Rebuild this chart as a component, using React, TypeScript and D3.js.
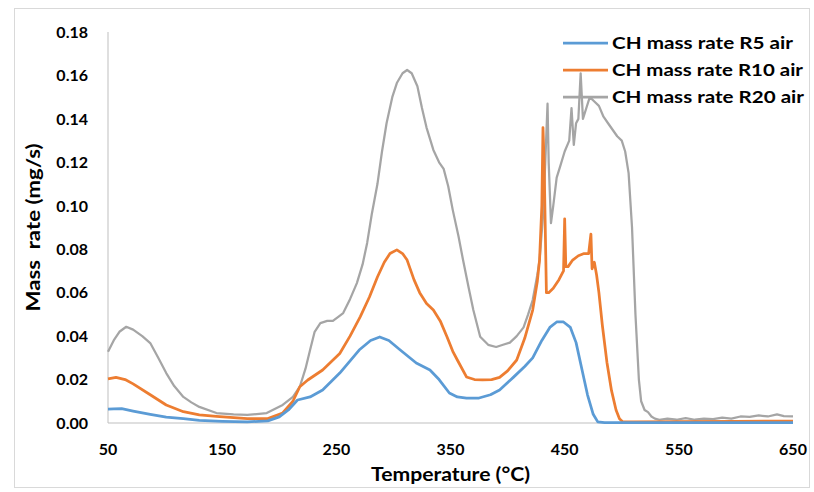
import React from "react";
import * as d3 from "d3";

const xTicks = [50, 150, 250, 350, 450, 550, 650];
const yTicks = [0, 0.02, 0.04, 0.06, 0.08, 0.1, 0.12, 0.14, 0.16, 0.18];

const seriesNames = ["CH mass rate R5 air", "CH mass rate R10 air", "CH mass rate R20 air"];
const seriesColors = ["#5B9BD5", "#ED7D31", "#A5A5A5"];
const legendWidths = [181, 191, 192];

const r5Temp = [50, 55, 62, 72, 87, 101, 116, 130, 150, 172, 190, 200, 208, 216, 227, 238, 253, 270, 280, 288, 296, 306, 320, 332, 340, 349, 356, 364, 375, 385, 393, 405, 415, 422, 430, 437, 443, 449, 455, 460, 465, 470, 475, 479, 485, 500, 550, 600, 650];
const r5Val = [0.0064, 0.0065, 0.0066, 0.0055, 0.004, 0.0027, 0.002, 0.0012, 0.0008, 0.0005, 0.001, 0.0028, 0.006, 0.0106, 0.012, 0.0152, 0.023, 0.0336, 0.038, 0.0396, 0.038, 0.0336, 0.0276, 0.0244, 0.02, 0.0138, 0.012, 0.0115, 0.0115, 0.013, 0.0152, 0.021, 0.026, 0.03, 0.038, 0.044, 0.0465, 0.0465, 0.044, 0.037, 0.025, 0.013, 0.004, 0.0005, 0.0002, 0.0002, 0.0002, 0.0002, 0.0002];

const r10Temp = [50, 57, 65, 72, 87, 101, 116, 130, 145, 172, 190, 203, 212, 218, 225, 238, 253, 262, 271, 279, 286, 292, 297, 303, 308, 312, 318, 323, 329, 335, 341, 347, 352, 356, 364, 371, 378, 386, 393, 400, 408, 415, 422, 426, 428, 430, 431, 432, 434, 436, 440, 445, 449, 450, 451, 453, 457, 462, 467, 471, 473, 474, 476, 478, 480, 483, 487, 491, 495, 498, 501, 510, 550, 600, 650];
const r10Val = [0.0203, 0.021, 0.02, 0.018, 0.013, 0.0083, 0.0052, 0.0037, 0.003, 0.002, 0.002, 0.0046, 0.01, 0.0167, 0.0198, 0.0244, 0.032, 0.04, 0.049, 0.058, 0.0672, 0.074, 0.078, 0.0797, 0.078, 0.075, 0.066, 0.06, 0.055, 0.052, 0.047, 0.0396, 0.033, 0.029, 0.0212, 0.02, 0.0198, 0.02, 0.021, 0.024, 0.029, 0.039, 0.052, 0.065, 0.075, 0.1, 0.136, 0.12, 0.06, 0.06, 0.062, 0.066, 0.07, 0.094, 0.072, 0.072, 0.075, 0.077, 0.078, 0.078, 0.087, 0.071, 0.074, 0.068, 0.06, 0.045, 0.028, 0.015, 0.006, 0.002, 0.0005, 0.0005, 0.0006, 0.0008, 0.0009];

const r20Temp = [50, 55, 60, 66, 72, 80, 87, 94, 101, 108, 116, 123, 130, 145, 160, 172, 189, 203, 212, 218, 223, 227, 231, 236, 242, 247, 252, 256, 262, 268, 273, 277, 281, 286, 290, 294, 299, 303, 308, 312, 316, 321, 325, 329, 335, 340, 344, 348, 352, 357, 361, 366, 370, 376, 383, 390, 396, 402, 408, 414, 418, 422, 426, 428, 431, 433, 435, 436, 438, 440, 443, 446, 450, 454, 456, 458, 460, 462, 464, 466, 469, 472, 476, 480, 484, 488, 492, 496, 500, 503, 506, 509, 512, 515, 517, 520, 523, 526, 529, 533, 540, 548, 556, 564, 572, 580, 588, 596, 604, 612, 620, 628, 636, 642, 650];
const r20Val = [0.0328, 0.038, 0.042, 0.0443, 0.043, 0.04, 0.0368, 0.03, 0.023, 0.017, 0.012, 0.0095, 0.0074, 0.0046, 0.004, 0.0037, 0.0046, 0.0083, 0.012, 0.0167, 0.025, 0.0336, 0.042, 0.046, 0.047, 0.047, 0.049, 0.0506, 0.057, 0.0644, 0.073, 0.0829, 0.096, 0.11, 0.125, 0.138, 0.15, 0.1565, 0.161, 0.1625, 0.161, 0.155, 0.145, 0.136, 0.1257, 0.12, 0.117, 0.109, 0.098, 0.086, 0.075, 0.062, 0.052, 0.0397, 0.036, 0.035, 0.036, 0.037, 0.04, 0.044, 0.05, 0.0566, 0.068, 0.075, 0.095, 0.12, 0.147, 0.12, 0.092, 0.1, 0.113, 0.118, 0.125, 0.13, 0.145, 0.128, 0.138, 0.14, 0.161, 0.14, 0.145, 0.15, 0.148, 0.146, 0.141, 0.138, 0.135, 0.132, 0.13, 0.125, 0.115, 0.09, 0.05, 0.02, 0.01, 0.006, 0.005, 0.003, 0.002, 0.0015, 0.002, 0.0015, 0.0022, 0.0015, 0.002, 0.0018, 0.0025, 0.002, 0.003, 0.0028, 0.0035, 0.003, 0.004, 0.0032, 0.003];

const W = 814;
const H = 492;
const M = { left: 108, right: 21, top: 32, bottom: 69 };
const FONT = "Lato, 'Open Sans', sans-serif";

export default function App() {
  const x = d3.scaleLinear().domain([50, 650]).range([M.left, W - M.right]);
  const y = d3.scaleLinear().domain([0, 0.18]).range([H - M.bottom, M.top]);
  const temps = [r5Temp, r10Temp, r20Temp];
  const vals = [r5Val, r10Val, r20Val];
  const widths = [2.75, 2.75, 2.25];
  const line = d3
    .line<[number, number]>()
    .x((d) => x(d[0]))
    .y((d) => y(d[1]));
  const order = [2, 1, 0];
  return (
    <svg width={W} height={H} style={{ position: "absolute", left: 0, top: 0, background: "#fff" }} fontFamily={FONT}>
      <rect x={14.5} y={8.5} width={795} height={479} fill="#fff" stroke="#d9d9d9" />
      <line x1={x(50)} x2={x(50)} y1={y(0.18)} y2={y(0)} stroke="#bfbfbf" />
      <line x1={x(50)} x2={x(650)} y1={y(0)} y2={y(0)} stroke="#bfbfbf" />
      {yTicks.map((t) => (
        <text key={t} x={x(50) - 20} y={y(t)} dy="0.36em" textAnchor="end" fontSize={16} fontWeight={700} fill="#000">
          {d3.format(".2f")(t)}
        </text>
      ))}
      {xTicks.map((t) => (
        <text key={t} x={x(t)} y={y(0) + 26} dy="0.36em" textAnchor="middle" fontSize={16} fontWeight={700} fill="#000">
          {t}
        </text>
      ))}
      {order.map((i) => (
        <path
          key={i}
          d={line(temps[i].map((t, k) => [t, vals[i][k]] as [number, number])) || ""}
          fill="none"
          stroke={seriesColors[i]}
          strokeWidth={widths[i]}
          strokeLinejoin="round"
        />
      ))}
      <text
        x={(x(50) + x(650)) / 2}
        y={481}
        textAnchor="middle"
        fontSize={18}
        fontWeight={700}
        textLength={159}
        lengthAdjust="spacingAndGlyphs"
      >
        Temperature (°C)
      </text>
      <text
        transform={`translate(40,${(y(0) + y(0.18)) / 2}) rotate(-90)`}
        textAnchor="middle"
        fontSize={18}
        fontWeight={700}
        textLength={168}
        lengthAdjust="spacingAndGlyphs"
        style={{ whiteSpace: "pre" }}
      >
        {"Mass  rate (mg/s)"}
      </text>
      {seriesNames.map((n, i) => (
        <g key={n} transform={`translate(563,${43 + i * 27})`}>
          <line x1={0} x2={45} y1={0} y2={0} stroke={seriesColors[i]} strokeWidth={2.75} />
          <text
            x={49}
            y={0}
            dy="0.36em"
            fontSize={17}
            fontWeight={700}
            textLength={legendWidths[i]}
            lengthAdjust="spacingAndGlyphs"
          >
            {n}
          </text>
        </g>
      ))}
    </svg>
  );
}
